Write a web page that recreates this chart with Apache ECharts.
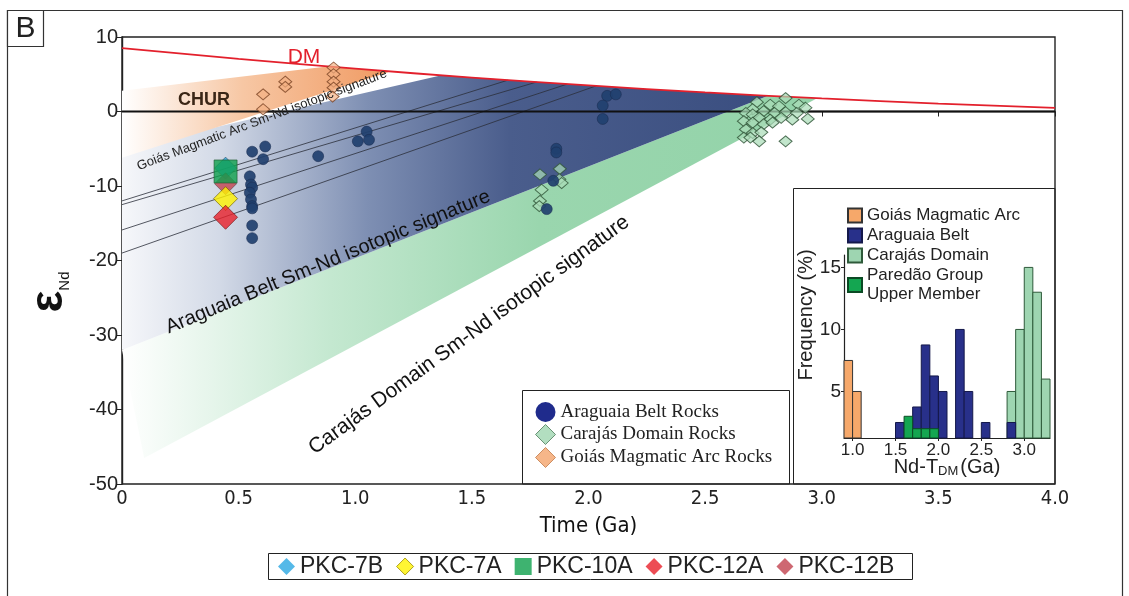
<!DOCTYPE html>
<html><head><meta charset="utf-8">
<script src="https://cdn.jsdelivr.net/npm/echarts@6/dist/echarts.min.js"></script>
<style>html,body{margin:0;padding:0;background:#fff}#c{width:1129px;height:596px}</style>
</head><body><div id="c"></div>
<script>
// ---------- main diagram data (t in Ga, epsilon Nd) ----------
const xTickLabels = ['0','0.5','1.0','1.5','2.0','2.5','3.0','3.5','4.0'];
const dmCurve = [[0,8.5],[0.5,7.06],[1,5.75],[1.5,4.56],[2,3.5],[2.5,2.56],[3,1.75],[3.5,1.06],[4,0.5]];
const churLine = [[0,0],[4,0]];
const goiasField = [[0,2.8],[0.88,6.05],[1.0,5.75],[1.15,5.38],[0,-6.2]];
const araguaiaField = [[0,-5],[1.37,4.86],[2,3.5],[2.5,2.56],[2.77,2.1],[0,-32]];
const carajasField = [[0,-32],[2.77,2.1],[2.98,1.78],[0.095,-46.5]];
const evolutionLines = [
  [[0,-12.0],[1.654,4.2]],
  [[0,-12.5],[1.777,3.95]],
  [[0,-15.9],[1.909,3.68]],
  [[0,-19.0],[2.032,3.43]]
];
const araguaiaRocks = [[0.558,-5.4],[0.614,-4.7],[0.605,-6.4],[0.548,-8.7],[0.553,-9.8],[0.558,-10.2],[0.548,-10.9],
  [0.553,-11.8],[0.558,-12.7],[0.558,-13.0],[0.558,-15.3],[0.558,-17.0],[0.841,-6.0],[1.011,-4.0],[1.049,-2.7],
  [1.059,-3.8],[1.862,-5.0],[1.862,-5.5],[1.849,-9.3],[1.821,-13.1],[2.080,2.1],[2.117,2.3],[2.061,0.8],[2.061,-1.0]];
const carajasRocks = [[1.792,-8.45],[1.877,-7.7],[1.875,-9.1],[1.885,-9.6],[1.799,-10.5],[1.792,-12.0],[1.789,-12.7],
  [2.845,1.8],[2.902,0.9],[2.930,0.5],[2.722,1.25],[2.779,0.9],[2.817,0.7],[2.704,0.3],[2.751,0.05],[2.798,-0.2],[2.845,-0.1],
  [2.893,-0.2],[2.940,-1.0],[2.675,-0.2],[2.704,-0.4],[2.732,-0.85],[2.779,-1.1],[2.826,-0.85],[2.874,-1.1],[2.666,-1.3],
  [2.704,-1.5],[2.751,-1.7],[2.789,-1.5],[2.675,-2.4],[2.704,-2.9],[2.741,-2.8],[2.666,-3.5],[2.694,-3.5],[2.732,-4.0],[2.845,-4.0]];
const goiasRocks = [[0.605,2.3],[0.605,0.3],[0.700,4.0],[0.700,3.3],[0.907,5.9],[0.907,5.0],[0.907,4.0],[0.907,3.2],[0.903,2.0]];
const pkc7B = [[0.444,-7.6]];
const pkc12B = [[0.444,-9.7]];
const pkc7A = [[0.444,-11.7]];
const pkc12A = [[0.444,-14.2]];
const pkc10A = [[0.444,-8.05]];

// ---------- inset histogram data (bin start in Ga, frequency %) ----------
const histBinWidth = 0.1;
const histBase = 1.25;
const insetXLabels = [1.0,1.5,2.0,2.5,3.0];
const insetYLabels = [5,10,15];
const histGoias = [[0.9,7.5],[1.0,5]];
const histAraguaia = [[1.5,2.5],[1.7,3.75],[1.8,8.75],[1.9,6.25],[2.0,5],[2.2,10],[2.3,5],[2.5,2.5],[2.8,2.5]];
const histCarajas = [[2.8,5],[2.9,10],[3.0,15],[3.1,13],[3.2,6]];
const histParedao = [[1.6,3],[1.7,2],[1.8,2],[1.9,2]];

const SANS = '"Liberation Sans", Arial, sans-serif';
const NARROW = '"Liberation Sans Narrow", "DejaVu Sans Condensed", "Liberation Sans", Arial, sans-serif';
const SERIF = '"Liberation Serif", "Times New Roman", serif';

const chart = echarts.init(document.getElementById('c'), null, {renderer:'canvas'});

function field(name, pts, stops) {
  return {
    type:'custom', name, silent:true, z:1, xAxisIndex:0, yAxisIndex:0,
    data:[[pts[0][0], pts[0][1]]],
    renderItem:(p, api) => ({
      type:'polygon',
      shape:{points: pts.map(q => api.coord(q))},
      style:{fill: new echarts.graphic.LinearGradient(0,0,1,0,stops)}
    })
  };
}
function hist(name, data, color, border) {
  return {
    type:'custom', name, xAxisIndex:1, yAxisIndex:1, z:10,
    itemStyle:{color, borderColor:border, borderWidth:1},
    data,
    renderItem:(p, api) => {
      const b = api.value(0), v = api.value(1);
      const p0 = api.coord([b, histBase]);
      const p1 = api.coord([b + histBinWidth, v]);
      return {type:'rect', shape:{x:p0[0], y:p1[1], width:p1[0]-p0[0], height:p0[1]-p1[1]},
        style:{fill:color, stroke:border, lineWidth:1}};
    }
  };
}

const series = [
  field('carajasField', carajasField, [{offset:0,color:'#ffffff'},{offset:0.3,color:'#c4e8d0'},{offset:0.6,color:'#9ad6ae'},{offset:1,color:'#93d3a9'}]),
  field('araguaiaField', araguaiaField, [{offset:0,color:'#f6f7fa'},{offset:0.15,color:'#d3dae7'},{offset:0.38,color:'#7e8fb3'},{offset:0.6,color:'#4a5d8c'},{offset:1,color:'#3a4e80'}]),
  field('goiasField', goiasField, [{offset:0,color:'#ffffff'},{offset:0.45,color:'#f7c7a4'},{offset:1,color:'#f09a62'}]),
];
evolutionLines.forEach((l,i) => series.push({type:'line', name:'evo'+i, data:l, symbol:'none', silent:true, z:2,
  lineStyle:{color:'#2b2f3a', width:0.8}}));
series.push({type:'line', name:'CHUR', data:churLine, symbol:'none', silent:true, z:3, lineStyle:{color:'#111', width:2}});
series.push({type:'line', name:'DM', data:dmCurve, symbol:'none', smooth:true, silent:true, z:3, lineStyle:{color:'#e3202c', width:1.8}});
series.push({type:'scatter', name:'Carajás Domain Rocks', data:carajasRocks, symbol:'diamond', symbolSize:[13,11], z:5,
  itemStyle:{color:'rgba(170,220,185,0.9)', borderColor:'#2e5236', borderWidth:1}});
series.push({type:'scatter', name:'Goiás Magmatic Arc Rocks', data:goiasRocks, symbol:'diamond', symbolSize:[13,11], z:5,
  itemStyle:{color:'rgba(244,176,130,0.85)', borderColor:'#7a4424', borderWidth:1}});
series.push({type:'scatter', name:'Araguaia Belt Rocks', data:araguaiaRocks, symbol:'circle', symbolSize:11, z:5,
  itemStyle:{color:'#21406f', borderColor:'#1a2c50', borderWidth:0.6, opacity:0.92}});
series.push({type:'scatter', name:'PKC-7B', data:pkc7B, symbol:'diamond', symbolSize:22, z:6,
  itemStyle:{color:'#2aa8e2', borderColor:'#333', borderWidth:0.6}});
series.push({type:'scatter', name:'PKC-12B', data:pkc12B, symbol:'diamond', symbolSize:22, z:6,
  itemStyle:{color:'#c2424f', borderColor:'#333', borderWidth:0.6}});
series.push({type:'scatter', name:'PKC-7A', data:pkc7A, symbol:'diamond', symbolSize:24, z:6,
  itemStyle:{color:'#fff200', borderColor:'#6b5a00', borderWidth:0.8}});
series.push({type:'scatter', name:'PKC-12A', data:pkc12A, symbol:'diamond', symbolSize:24, z:6,
  itemStyle:{color:'#e8202a', borderColor:'#6b1010', borderWidth:0.8}});
series.push({type:'scatter', name:'PKC-10A', data:pkc10A, symbol:'rect', symbolSize:23, z:7,
  itemStyle:{color:'#0ea04c', borderColor:'#1e5a30', borderWidth:0.8}});
series.push(hist('Carajás Domain', histCarajas, '#9ed5b1', '#2e5a3a'));
series.push(hist('Goiás Magmatic Arc', histGoias, '#f6a86a', '#333'));
series.push(hist('Araguaia Belt', histAraguaia, '#28308a', '#14184a'));
series.push(hist('Paredão Group\nUpper Member', histParedao, '#14a651', '#0b4a24'));

const option = {
  backgroundColor:'#fff',
  animation:false,
  grid:[
    {left:122, right:74, top:37, bottom:112, show:true, borderColor:'#222', borderWidth:1.4, backgroundColor:'transparent'},
    {left:844, top:255, width:206, height:183, show:false}
  ],
  xAxis:[
    {gridIndex:0, type:'value', min:0, max:4, interval:0.5,
     name:'Time (Ga)', nameLocation:'middle', nameGap:31,
     nameTextStyle:{fontFamily:NARROW, fontSize:22, color:'#111'},
     axisLine:{lineStyle:{color:'#222', width:1.4}}, axisTick:{length:5, lineStyle:{color:'#222'}},
     axisLabel:{fontFamily:NARROW, fontSize:20, color:'#222', margin:5,
       formatter:(v) => xTickLabels[Math.round(v/0.5)]},
     splitLine:{show:false}},
    {gridIndex:1, type:'value', min:0.9, max:3.3,
     axisLine:{lineStyle:{color:'#222', width:1.2}},
     axisTick:{customValues:insetXLabels, length:3, lineStyle:{color:'#222'}},
     axisLabel:{customValues:insetXLabels, fontFamily:SANS, fontSize:17, color:'#222', margin:4,
       formatter:(v) => v.toFixed(1)},
     splitLine:{show:false}}
  ],
  yAxis:[
    {gridIndex:0, type:'value', min:-50, max:10, interval:10,
     axisLine:{lineStyle:{color:'#222', width:1.4}}, axisTick:{length:5, lineStyle:{color:'#222'}},
     axisLabel:{fontFamily:SANS, fontSize:20, color:'#222', margin:4},
     splitLine:{show:false}},
    {gridIndex:1, type:'value', min:histBase, max:16,
     axisLine:{show:true, lineStyle:{color:'#222', width:1.2}},
     axisTick:{show:true, customValues:insetYLabels, length:3, lineStyle:{color:'#222'}},
     axisLabel:{customValues:insetYLabels, fontFamily:SANS, fontSize:19, color:'#222', margin:3},
     splitLine:{show:false}}
  ],
  legend:[
    {orient:'vertical', left:535, top:402, padding:0, itemGap:2, itemWidth:20, itemHeight:20, z:30,
     textStyle:{fontFamily:SERIF, fontSize:19, color:'#222'}, selectedMode:false,
     data:[
       {name:'Araguaia Belt Rocks', itemStyle:{color:'#1f2b8c', borderWidth:0, opacity:1}},
       {name:'Carajás Domain Rocks', itemStyle:{color:'#9fd6b0', borderColor:'#4d7a5a', borderWidth:1}},
       {name:'Goiás Magmatic Arc Rocks', itemStyle:{color:'#f4a46c', borderColor:'#c27a4a', borderWidth:1}}
     ]},
    {orient:'horizontal', left:278, top:555, padding:0, itemGap:13, itemWidth:17, itemHeight:17, z:30,
     textStyle:{fontFamily:SANS, fontSize:23, color:'#222'}, selectedMode:false,
     data:[
       {name:'PKC-7B', itemStyle:{borderWidth:0}},
       {name:'PKC-7A', itemStyle:{borderColor:'#9a8a00', borderWidth:1}},
       {name:'PKC-10A', itemStyle:{borderWidth:0}},
       {name:'PKC-12A', itemStyle:{borderWidth:0}},
       {name:'PKC-12B', itemStyle:{borderWidth:0}}
     ]},
    {orient:'vertical', left:847, top:206, padding:0, itemGap:1, itemWidth:14, itemHeight:14, icon:'rect', z:30,
     textStyle:{fontFamily:SANS, fontSize:17, color:'#222', lineHeight:19}, selectedMode:false,
     data:['Goiás Magmatic Arc','Araguaia Belt','Carajás Domain','Paredão Group\nUpper Member']}
  ],
  graphic:[
    {type:'rect', silent:true, z:0, shape:{x:7.5, y:10.5, width:1115, height:620}, style:{fill:'none', stroke:'#333', lineWidth:1.2}},
    {type:'rect', silent:true, z:1, shape:{x:7.5, y:10.5, width:36, height:36}, style:{fill:'#fff', stroke:'#333', lineWidth:1.2}},
    {type:'text', silent:true, z:2, x:25.5, y:29, style:{text:'B', fontFamily:SANS, fontSize:30, fill:'#222', align:'center', verticalAlign:'middle'}},
    {type:'text', silent:true, z:2, x:49, y:292, rotation:Math.PI/2,
     style:{text:'{e|ε}{s|Nd}', align:'center', verticalAlign:'middle',
       rich:{e:{fontFamily:SANS, fontSize:46, fontWeight:'bold', fill:'#111'}, s:{fontFamily:SANS, fontSize:15, fill:'#111', verticalAlign:'bottom', padding:[16,0,0,0]}}}},
    {type:'text', silent:true, z:20, x:304, y:57, style:{text:'DM', fontFamily:SANS, fontSize:21, fill:'#e3202c', align:'center', verticalAlign:'middle'}},
    {type:'text', silent:true, z:20, x:204, y:100, style:{text:'CHUR', fontFamily:SANS, fontSize:18, fontWeight:'bold', fill:'#3a2616', align:'center', verticalAlign:'middle'}},
    {type:'text', silent:true, z:20, x:262, y:120, rotation:0.36,
     style:{text:'Goiás Magmatic Arc Sm-Nd isotopic signature', fontFamily:SANS, fontSize:13, fill:'#222', align:'center', verticalAlign:'middle'}},
    {type:'text', silent:true, z:20, x:328, y:262, rotation:0.39,
     style:{text:'Araguaia Belt Sm-Nd isotopic signature', fontFamily:SANS, fontSize:20, fill:'#111', align:'center', verticalAlign:'middle'}},
    {type:'text', silent:true, z:20, x:469, y:335, rotation:0.63,
     style:{text:'Carajás Domain Sm-Nd isotopic signature', fontFamily:SANS, fontSize:21, fill:'#111', align:'center', verticalAlign:'middle'}},
    // legend and inset frames
    {type:'rect', silent:true, z:0, shape:{x:522.5, y:390.5, width:267, height:93.5}, style:{fill:'none', stroke:'#222', lineWidth:1}},
    {type:'rect', silent:true, z:0, shape:{x:793.5, y:188.5, width:261.5, height:295.5}, style:{fill:'none', stroke:'#222', lineWidth:1}},
    {type:'rect', silent:true, z:0, shape:{x:268.5, y:553.5, width:644, height:26}, style:{fill:'none', stroke:'#222', lineWidth:1}},
    {type:'text', silent:true, z:30, x:806, y:315, rotation:Math.PI/2,
     style:{text:'Frequency (%)', fontFamily:SANS, fontSize:20, fill:'#222', align:'center', verticalAlign:'middle'}},
    {type:'text', silent:true, z:30, x:947, y:467,
     style:{text:'{a|Nd-T}{b|DM}{a|(Ga)}', align:'center', verticalAlign:'middle',
       rich:{a:{fontFamily:SANS, fontSize:20, fill:'#222'}, b:{fontFamily:SANS, fontSize:13, fill:'#222', verticalAlign:'bottom', padding:[9,2,0,0]}}}}
  ],
  series
};
chart.setOption(option);
</script></body></html>
